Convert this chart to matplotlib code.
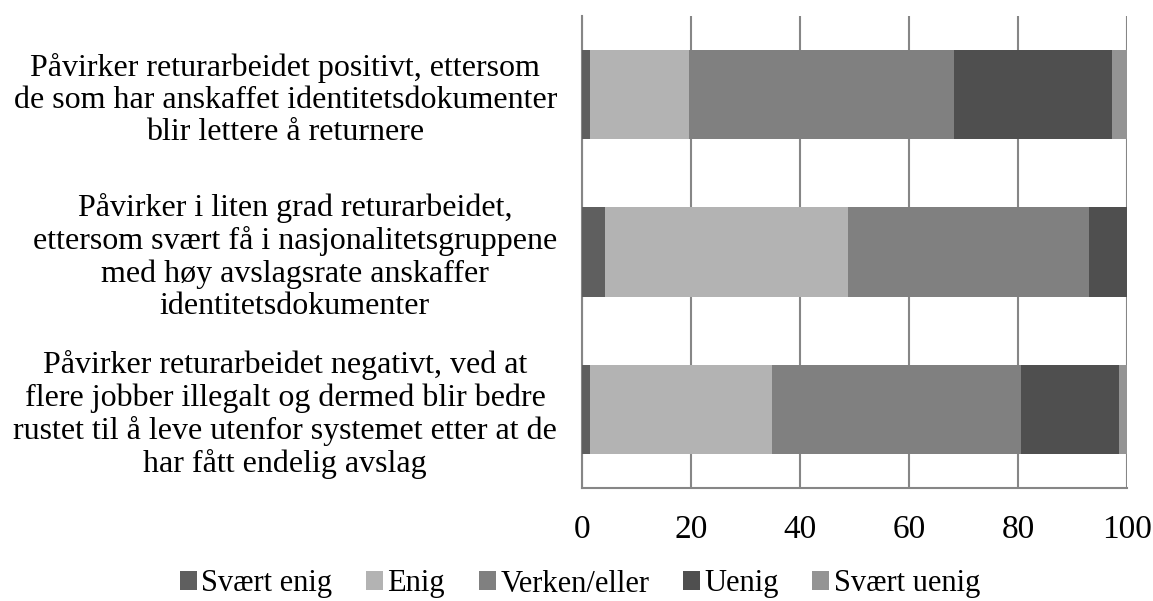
import matplotlib
matplotlib.use("Agg")
import matplotlib.pyplot as plt
import numpy as np

plt.rcParams['font.family'] = ['Liberation Serif', 'DejaVu Serif']

categories = [
    "Påvirker returarbeidet positivt, ettersom\nde som har anskaffet identitetsdokumenter\nblir lettere å returnere",
    "Påvirker i liten grad returarbeidet,\nettersom svært få i nasjonalitetsgruppene\nmed høy avslagsrate anskaffer\nidentitetsdokumenter",
    "Påvirker returarbeidet negativt, ved at\nflere jobber illegalt og dermed blir bedre\nrustet til å leve utenfor systemet etter at de\nhar fått endelig avslag",
]
series_names = ["Svært enig", "Enig", "Verken/eller", "Uenig", "Svært uenig"]
svaert_enig = [1.5, 4.2, 1.5]
enig = [18.2, 44.6, 33.3]
verken = [48.5, 44.3, 45.7]
uenig = [29.1, 6.9, 18.1]
svaert_uenig = [2.7, 0.0, 1.4]
xticks = [0, 20, 40, 60, 80, 100]

colors = ["#5f5f5f", "#b3b3b3", "#808080", "#4f4f4f", "#949494"]
series = [svaert_enig, enig, verken, uenig, svaert_uenig]

fig = plt.figure(figsize=(11.53, 6.01), dpi=100)
ax = fig.add_axes([582/1153, 1-488/601, (1127-582)/1153, (488-16)/601])

y = np.arange(len(categories))
left = np.zeros(len(categories))
for name, vals, c in zip(series_names, series, colors):
    ax.barh(y, vals, left=left, height=0.567, color=c, label=name, zorder=3)
    left += np.array(vals)

ax.set_ylim(len(categories) - 0.5, -0.5)
ax.set_xlim(0, 100)
ax.set_xticks(xticks)
ax.set_xticklabels([str(t) for t in xticks])
ax.set_yticks(y)
ax.set_yticklabels(categories, multialignment='center', linespacing=1.15)
ax.tick_params(axis='y', length=0, pad=18, labelsize=23)
ax.tick_params(axis='x', length=0, pad=19, labelsize=24)

ax.grid(axis='x', color='#868686', linewidth=1.5, zorder=0)
for s in ['top', 'right']:
    ax.spines[s].set_visible(False)
for s in ['left', 'bottom']:
    ax.spines[s].set_color('#868686')
    ax.spines[s].set_linewidth(1.5)

fig.legend(loc='center', bbox_to_anchor=(580/1153, 1-584/601), ncol=5, frameon=False,
           fontsize=22, handlelength=0.55, handleheight=0.55, handletextpad=0.15,
           columnspacing=1.1)

fig.savefig("out.png", dpi=100)
